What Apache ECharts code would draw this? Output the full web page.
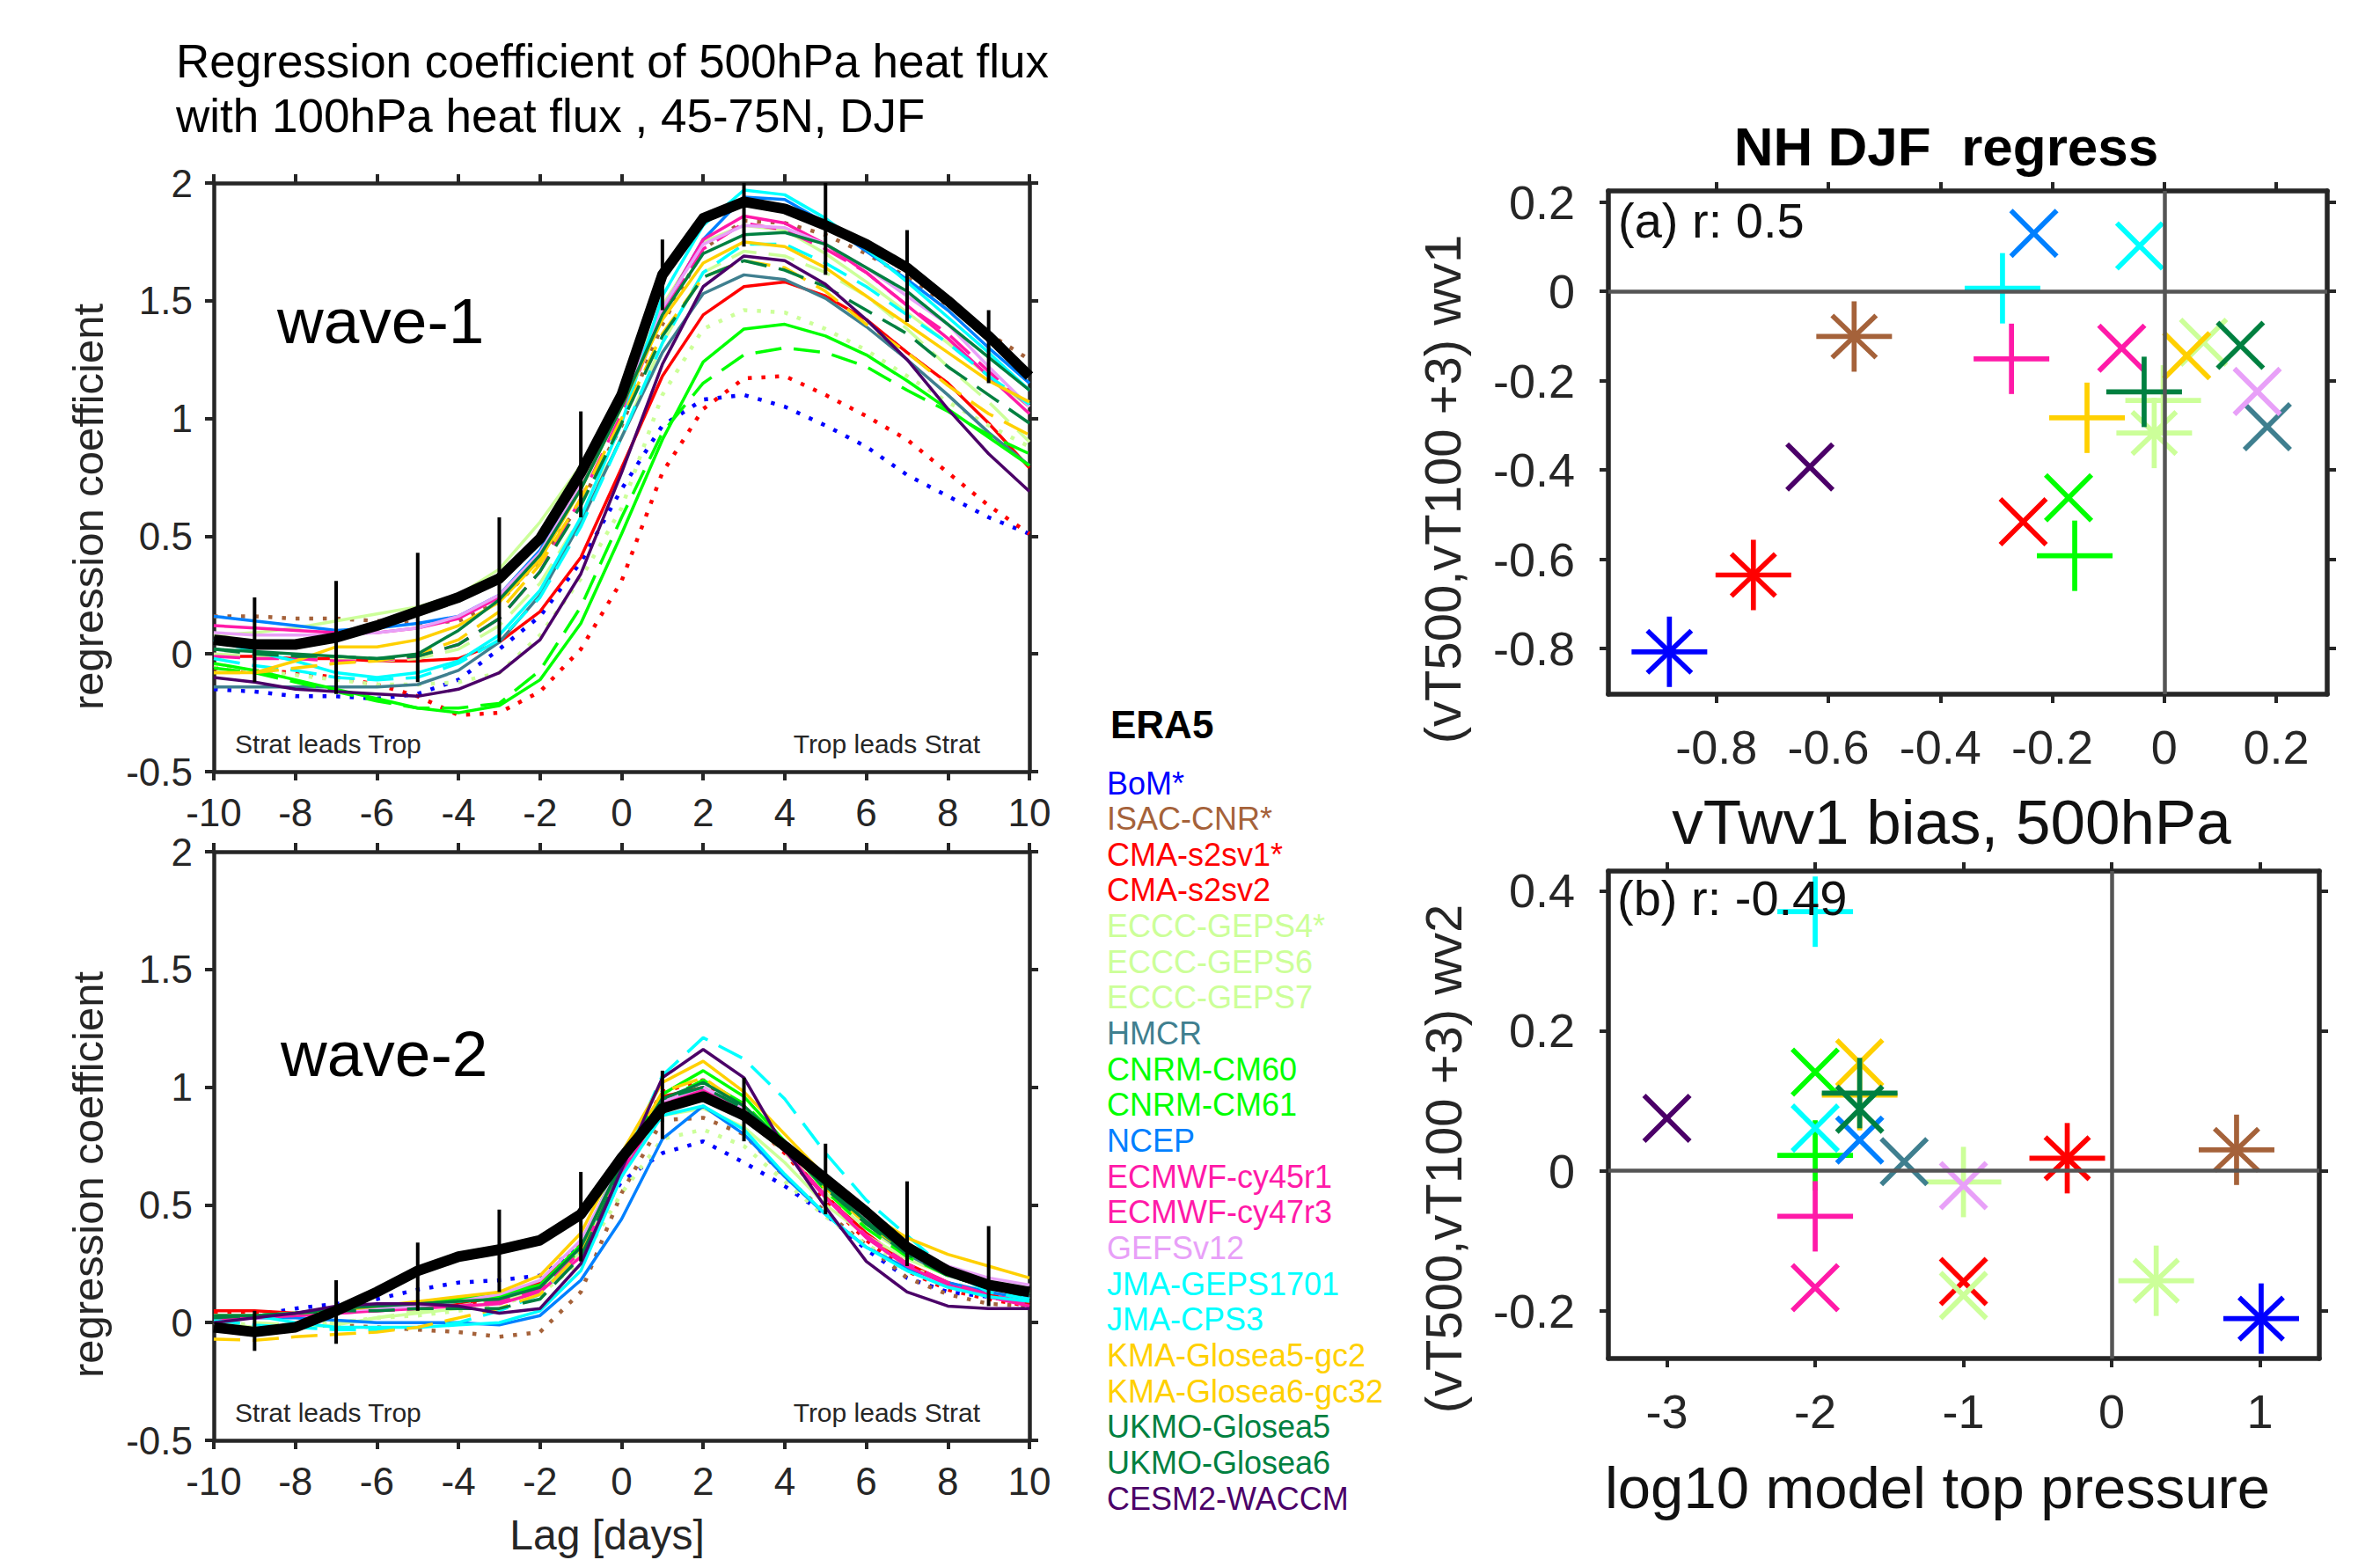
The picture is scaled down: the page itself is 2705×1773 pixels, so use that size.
<!DOCTYPE html>
<html>
<head>
<meta charset="utf-8">
<script src="https://cdn.jsdelivr.net/npm/echarts@6/dist/echarts.min.js"></script>
<style>html,body{margin:0;padding:0;background:#fff}#chart{width:2705px;height:1773px}</style>
</head>
<body>
<div id="chart"></div>
<script>
// ---------------- data ----------------
const LAGS = [-10,-9,-8,-7,-6,-5,-4,-3,-2,-1,0,1,2,3,4,5,6,7,8,9,10];
const MODEL_NAMES = ['BoM*','ISAC-CNR*','CMA-s2sv1*','CMA-s2sv2','ECCC-GEPS4*','ECCC-GEPS6','ECCC-GEPS7','HMCR','CNRM-CM60','CNRM-CM61','NCEP','ECMWF-cy45r1','ECMWF-cy47r3','GEFSv12','JMA-GEPS1701','JMA-CPS3','KMA-Glosea5-gc2','KMA-Glosea6-gc32','UKMO-Glosea5','UKMO-Glosea6','CESM2-WACCM'];

// wave-1 regression coefficients (lag -10..10)
const W1_ERA5 = [0.06,0.04,0.04,0.07,0.12,0.18,0.24,0.32,0.49,0.77,1.10,1.61,1.85,1.92,1.89,1.82,1.74,1.64,1.50,1.35,1.18];
const W1_BOM = [-0.15,-0.16,-0.18,-0.18,-0.19,-0.17,-0.11,0.02,0.16,0.39,0.70,0.97,1.08,1.10,1.05,0.97,0.88,0.76,0.67,0.58,0.51];
const W1_ISAC = [0.16,0.16,0.15,0.15,0.14,0.13,0.14,0.22,0.40,0.64,0.97,1.40,1.72,1.84,1.83,1.78,1.70,1.60,1.48,1.36,1.25];
const W1_CMA1 = [-0.06,-0.07,-0.08,-0.10,-0.13,-0.18,-0.26,-0.25,-0.16,0.02,0.31,0.77,1.04,1.17,1.18,1.10,1.01,0.91,0.77,0.63,0.51];
const W1_CMA2 = [-0.01,-0.01,-0.02,-0.02,-0.03,-0.03,-0.02,0.05,0.18,0.41,0.79,1.18,1.44,1.56,1.58,1.52,1.42,1.28,1.15,0.98,0.79];
const W1_GEPS4 = [-0.05,-0.07,-0.09,-0.11,-0.13,-0.13,-0.12,-0.08,0.08,0.32,0.62,1.10,1.38,1.46,1.45,1.38,1.29,1.18,1.07,0.97,0.88];
const W1_GEPS6 = [0.08,0.09,0.11,0.14,0.17,0.20,0.25,0.36,0.56,0.80,1.08,1.48,1.75,1.82,1.80,1.70,1.58,1.45,1.32,1.18,1.05];
const W1_GEPS7 = [0.00,-0.01,-0.02,-0.02,-0.03,-0.02,0.02,0.12,0.30,0.58,0.92,1.32,1.62,1.71,1.69,1.62,1.52,1.38,1.22,1.07,0.90];
const W1_HMCR = [-0.14,-0.14,-0.14,-0.14,-0.14,-0.13,-0.07,0.05,0.25,0.56,0.92,1.28,1.53,1.61,1.59,1.51,1.39,1.25,1.10,0.94,0.80];
const W1_CM60 = [-0.04,-0.07,-0.11,-0.15,-0.19,-0.23,-0.25,-0.22,-0.11,0.13,0.51,0.91,1.24,1.38,1.40,1.35,1.27,1.16,1.04,0.92,0.80];
const W1_CM61 = [-0.06,-0.08,-0.12,-0.16,-0.20,-0.23,-0.23,-0.21,-0.07,0.20,0.58,0.94,1.15,1.27,1.30,1.28,1.22,1.12,1.03,0.93,0.85];
const W1_NCEP = [0.16,0.14,0.12,0.10,0.11,0.13,0.16,0.25,0.44,0.74,1.08,1.46,1.76,1.94,1.93,1.83,1.71,1.59,1.46,1.30,1.15];
const W1_EC45 = [0.12,0.11,0.10,0.09,0.09,0.11,0.15,0.24,0.42,0.72,1.06,1.46,1.76,1.86,1.83,1.74,1.62,1.48,1.34,1.18,1.02];
const W1_EC47 = [-0.01,-0.02,-0.02,-0.03,-0.03,-0.01,0.04,0.15,0.35,0.66,1.02,1.44,1.72,1.83,1.80,1.72,1.62,1.48,1.36,1.20,1.05];
const W1_GEFS = [0.09,0.08,0.08,0.08,0.09,0.11,0.16,0.25,0.43,0.72,1.06,1.47,1.74,1.82,1.81,1.74,1.64,1.52,1.40,1.22,1.05];
const W1_GEPS1701 = [0.06,0.01,-0.03,-0.08,-0.10,-0.08,-0.03,0.08,0.27,0.58,0.98,1.52,1.82,1.97,1.95,1.85,1.72,1.58,1.43,1.28,1.12];
const W1_CPS3 = [-0.02,-0.05,-0.07,-0.10,-0.11,-0.10,-0.04,0.06,0.24,0.54,0.92,1.32,1.62,1.74,1.74,1.66,1.56,1.44,1.32,1.18,1.06];
const W1_KMA5 = [-0.08,-0.08,-0.03,0.03,0.03,0.06,0.12,0.22,0.40,0.70,1.05,1.42,1.66,1.75,1.73,1.64,1.52,1.40,1.28,1.16,1.07];
const W1_KMA6 = [-0.08,-0.08,-0.06,-0.04,-0.03,0.00,0.06,0.18,0.38,0.66,1.00,1.36,1.60,1.67,1.64,1.54,1.40,1.28,1.14,1.02,0.93];
const W1_UK5 = [0.02,0.01,0.00,-0.01,-0.02,0.00,0.10,0.23,0.42,0.70,1.05,1.44,1.70,1.78,1.79,1.74,1.64,1.54,1.40,1.26,1.12];
const W1_UK6 = [0.02,0.00,-0.01,-0.01,-0.02,-0.01,0.04,0.15,0.35,0.63,0.98,1.35,1.60,1.67,1.63,1.56,1.46,1.36,1.22,1.10,0.98];
const W1_CESM = [-0.10,-0.12,-0.15,-0.16,-0.17,-0.18,-0.15,-0.08,0.06,0.34,0.77,1.23,1.56,1.69,1.67,1.57,1.42,1.25,1.04,0.85,0.69];

// wave-2 regression coefficients (lag -10..10)
const W2_ERA5 = [-0.02,-0.04,-0.02,0.05,0.13,0.22,0.28,0.31,0.35,0.46,0.70,0.91,0.96,0.88,0.75,0.61,0.47,0.32,0.22,0.16,0.13];
const W2_BOM = [0.01,0.03,0.06,0.08,0.10,0.14,0.17,0.18,0.20,0.33,0.60,0.72,0.77,0.68,0.58,0.46,0.31,0.19,0.13,0.11,0.08];
const W2_ISAC = [-0.02,-0.03,-0.02,-0.01,-0.02,-0.03,-0.04,-0.06,-0.04,0.13,0.55,0.86,0.87,0.80,0.62,0.47,0.33,0.19,0.12,0.08,0.07];
const W2_CMA1 = [0.04,0.04,0.04,0.05,0.06,0.07,0.08,0.10,0.16,0.33,0.68,0.98,1.03,0.88,0.72,0.52,0.35,0.22,0.14,0.10,0.07];
const W2_CMA2 = [0.05,0.05,0.04,0.05,0.06,0.07,0.08,0.11,0.17,0.32,0.66,0.96,1.00,0.88,0.73,0.54,0.38,0.25,0.17,0.12,0.08];
const W2_GEPS4 = [0.00,-0.01,-0.01,0.00,0.02,0.03,0.05,0.08,0.12,0.26,0.55,0.78,0.82,0.75,0.60,0.45,0.33,0.24,0.17,0.13,0.10];
const W2_GEPS6 = [0.00,-0.02,-0.02,-0.01,0.02,0.04,0.06,0.09,0.14,0.30,0.65,0.88,0.91,0.83,0.68,0.50,0.37,0.27,0.20,0.15,0.12];
const W2_GEPS7 = [0.01,0.00,-0.01,0.00,0.02,0.05,0.07,0.10,0.15,0.30,0.65,0.92,0.97,0.88,0.72,0.55,0.40,0.29,0.20,0.15,0.12];
const W2_HMCR = [0.03,0.03,0.04,0.06,0.07,0.08,0.09,0.11,0.16,0.32,0.66,0.92,1.00,0.90,0.75,0.58,0.42,0.29,0.20,0.15,0.11];
const W2_CM60 = [0.03,0.03,0.04,0.05,0.07,0.08,0.10,0.12,0.16,0.33,0.70,0.97,1.07,0.96,0.77,0.58,0.42,0.30,0.22,0.17,0.13];
const W2_CM61 = [0.03,0.03,0.04,0.05,0.06,0.07,0.09,0.11,0.15,0.31,0.68,0.94,1.03,0.93,0.76,0.56,0.40,0.28,0.20,0.15,0.12];
const W2_NCEP = [0.02,0.02,0.02,0.01,0.00,0.00,0.00,-0.01,0.03,0.18,0.44,0.78,0.92,0.80,0.62,0.46,0.32,0.23,0.17,0.13,0.10];
const W2_EC45 = [0.02,0.02,0.03,0.04,0.05,0.06,0.07,0.08,0.13,0.28,0.62,0.93,0.99,0.88,0.73,0.53,0.36,0.24,0.16,0.11,0.07];
const W2_EC47 = [0.01,0.02,0.03,0.04,0.05,0.06,0.07,0.09,0.14,0.30,0.64,0.94,1.00,0.89,0.73,0.54,0.37,0.25,0.17,0.12,0.08];
const W2_GEFS = [0.03,0.03,0.04,0.05,0.06,0.07,0.09,0.12,0.18,0.35,0.68,0.94,1.00,0.91,0.76,0.58,0.43,0.32,0.24,0.19,0.16];
const W2_GEPS1701 = [0.03,0.03,0.00,-0.02,-0.02,-0.02,-0.01,0.00,0.05,0.22,0.62,0.88,0.92,0.82,0.63,0.46,0.32,0.22,0.15,0.11,0.09];
const W2_CPS3 = [0.01,-0.01,-0.02,-0.03,-0.03,-0.02,0.00,0.05,0.12,0.30,0.66,1.05,1.21,1.12,0.95,0.72,0.52,0.37,0.22,0.13,0.10];
const W2_KMA5 = [0.03,0.03,0.04,0.05,0.07,0.09,0.11,0.13,0.20,0.38,0.72,1.02,1.11,0.98,0.80,0.62,0.47,0.36,0.29,0.24,0.19];
const W2_KMA6 = [-0.07,-0.075,-0.06,-0.05,-0.04,-0.02,0.02,0.06,0.12,0.30,0.68,0.98,1.04,0.92,0.75,0.57,0.42,0.30,0.22,0.17,0.14];
const W2_UK5 = [0.03,0.03,0.04,0.06,0.07,0.08,0.09,0.10,0.15,0.32,0.68,0.95,1.02,0.92,0.76,0.58,0.43,0.30,0.21,0.16,0.12];
const W2_UK6 = [0.02,0.03,0.04,0.05,0.05,0.06,0.06,0.06,0.10,0.28,0.66,0.95,1.00,0.91,0.75,0.57,0.42,0.29,0.20,0.15,0.11];
const W2_CESM = [0.00,0.02,0.04,0.07,0.08,0.08,0.07,0.04,0.06,0.25,0.65,1.04,1.16,1.04,0.74,0.49,0.26,0.13,0.07,0.06,0.06];

// ERA5 uncertainty bars
const EB_LAGS = [-9,-7,-5,-3,-1,1,3,5,7,9];
const W1_EB_LO = [-0.12,-0.17,-0.12,0.05,0.58,1.46,1.73,1.61,1.41,1.15];
const W1_EB_HI = [0.24,0.31,0.43,0.58,1.03,1.76,2.00,2.00,1.80,1.46];
const W2_EB_LO = [-0.12,-0.09,0.05,0.13,0.26,0.78,0.77,0.46,0.24,0.07];
const W2_EB_HI = [0.05,0.18,0.34,0.48,0.64,1.07,1.04,0.76,0.60,0.41];

// scatter (a): x = vTwv1 bias at 500hPa, y = wv1 regression difference
const SCAT_A_X = [-0.884,-0.554,-0.734,-0.252,-0.018,0.070,-0.002,0.184,-0.171,-0.160,-0.233,-0.076,-0.273,0.166,-0.044,-0.289,0.040,-0.138,0.136,-0.036,-0.633];
const SCAT_A_Y = [-0.807,-0.101,-0.635,-0.516,-0.317,-0.114,-0.244,-0.303,-0.462,-0.592,0.130,-0.127,-0.151,-0.224,0.102,0.007,-0.144,-0.283,-0.121,-0.225,-0.393];
// scatter (b): x = log10 model top pressure, y = wv2 regression difference
const SCAT_B_X = [1.008,0.842,-0.30,-1.0,0.30,-1.0,-1.0,-1.40,-2.0,-2.0,-1.70,-2.0,-2.0,-1.0,-2.0,-2.0,-1.70,-1.70,-1.70,-1.70,-3.0];
const SCAT_B_Y = [-0.211,0.030,0.018,-0.158,-0.157,-0.178,-0.016,0.013,0.141,0.022,0.044,-0.167,-0.065,-0.021,0.061,0.370,0.154,0.108,0.088,0.111,0.075];

const X_TICKS_A = [-0.8,-0.6,-0.4,-0.2,0,0.2];
const Y_TICKS_A = [-0.8,-0.6,-0.4,-0.2,0,0.2];
const X_TICKS_B = [-3,-2,-1,0,1];
const Y_TICKS_B = [-0.2,0,0.2,0.4];

// ---------------- styles ----------------
const MODEL_COLORS = ['#0000ff','#a5623a','#ff0000','#ff0000','#ccff99','#ccff99','#ccff99','#3f7f8f','#00ff00','#00ff00','#0080ff','#ff1aa8','#ff1aa8','#e8a0f8','#00ffff','#00ffff','#ffd000','#ffd000','#008040','#008040','#4b0068'];
const MODEL_MARKERS = ['*','*','*','x','*','x','+','x','x','+','x','x','+','x','x','+','x','+','x','+','x'];

const WAVE1 = [W1_BOM,W1_ISAC,W1_CMA1,W1_CMA2,W1_GEPS4,W1_GEPS6,W1_GEPS7,W1_HMCR,W1_CM60,W1_CM61,W1_NCEP,W1_EC45,W1_EC47,W1_GEFS,W1_GEPS1701,W1_CPS3,W1_KMA5,W1_KMA6,W1_UK5,W1_UK6,W1_CESM];
const WAVE2 = [W2_BOM,W2_ISAC,W2_CMA1,W2_CMA2,W2_GEPS4,W2_GEPS6,W2_GEPS7,W2_HMCR,W2_CM60,W2_CM61,W2_NCEP,W2_EC45,W2_EC47,W2_GEFS,W2_GEPS1701,W2_CPS3,W2_KMA5,W2_KMA6,W2_UK5,W2_UK6,W2_CESM];

const FONT = '"Liberation Sans", Arial, Helvetica, sans-serif';
const AX = '#262626';

const chart = echarts.init(document.getElementById('chart'), null, {renderer: 'svg', width: 2705, height: 1773});

const grids = [
  {left: 243, top: 208, width: 927, height: 669},
  {left: 243, top: 968, width: 927, height: 669},
  {left: 1828, top: 217, width: 817, height: 572},
  {left: 1828, top: 990, width: 808, height: 554}
];

function fmt(v) { return String(Math.round(v * 10) / 10); }

function axisBase(gi, pos, min, max, showLabel, fontSize, margin, extra) {
  const a = {
    type: 'value', gridIndex: gi, position: pos, min: min, max: max,
    axisLine: {show: true, onZero: false, lineStyle: {color: AX, width: extra.lw || 4.5}},
    axisTick: {show: true, inside: false, length: 10, lineStyle: {color: AX, width: 4}},
    axisLabel: {show: showLabel, fontSize: fontSize, color: AX, margin: margin, fontFamily: FONT, showMinLabel: true, showMaxLabel: true, formatter: fmt},
    splitLine: {show: false}
  };
  if (extra.interval !== undefined) a.interval = extra.interval;
  if (extra.ticks) { a.axisTick.customValues = extra.ticks; a.axisLabel.customValues = extra.ticks; }
  return a;
}

const xAxes = [], yAxes = [];
[0, 1].forEach(g => {
  xAxes.push(axisBase(g, 'bottom', -10, 10, true, 44, 24, {interval: 2}));
  yAxes.push(axisBase(g, 'left', -0.5, 2, true, 44, 24, {interval: 0.5}));
});
xAxes.push(axisBase(2, 'bottom', -0.993, 0.291, true, 54, 33, {ticks: X_TICKS_A, lw: 5.5}));
yAxes.push(axisBase(2, 'left', -0.902, 0.225, true, 54, 38, {ticks: Y_TICKS_A, lw: 5.5}));
xAxes.push(axisBase(3, 'bottom', -3.395, 1.40, true, 54, 33, {ticks: X_TICKS_B, lw: 5.5}));
yAxes.push(axisBase(3, 'left', -0.268, 0.428, true, 54, 38, {ticks: Y_TICKS_B, lw: 5.5}));
[0, 1].forEach(g => {
  xAxes.push(axisBase(g, 'top', -10, 10, false, 44, 24, {interval: 2}));
  yAxes.push(axisBase(g, 'right', -0.5, 2, false, 44, 24, {interval: 0.5}));
});
xAxes.push(axisBase(2, 'top', -0.993, 0.291, false, 54, 33, {ticks: X_TICKS_A, lw: 5.5}));
yAxes.push(axisBase(2, 'right', -0.902, 0.225, false, 54, 38, {ticks: Y_TICKS_A, lw: 5.5}));
xAxes.push(axisBase(3, 'top', -3.395, 1.40, false, 54, 33, {ticks: X_TICKS_B, lw: 5.5}));
yAxes.push(axisBase(3, 'right', -0.268, 0.428, false, 54, 38, {ticks: Y_TICKS_B, lw: 5.5}));

function lineType(m) {
  if (m === '*') return [4.5, 11];
  if (m === '+') return [30, 14];
  return 'solid';
}

const series = [];
[WAVE1, WAVE2].forEach((wave, g) => {
  wave.forEach((vals, i) => {
    const m = MODEL_MARKERS[i];
    series.push({
      type: 'line', name: MODEL_NAMES[i], xAxisIndex: g, yAxisIndex: g,
      data: LAGS.map((l, k) => [l, vals[k]]),
      symbol: 'none', showSymbol: false, silent: true, animation: false, z: 2,
      lineStyle: {color: MODEL_COLORS[i], width: m === '*' ? 4.5 : 3.5, type: lineType(m), cap: 'butt'}
    });
  });
  const era = g === 0 ? W1_ERA5 : W2_ERA5;
  series.push({
    type: 'line', name: 'ERA5', xAxisIndex: g, yAxisIndex: g,
    data: LAGS.map((l, k) => [l, era[k]]),
    symbol: 'none', showSymbol: false, silent: true, animation: false, z: 3,
    lineStyle: {color: '#000', width: 12, join: 'round'}
  });
  const lo = g === 0 ? W1_EB_LO : W2_EB_LO;
  const hi = g === 0 ? W1_EB_HI : W2_EB_HI;
  series.push({
    type: 'custom', xAxisIndex: g, yAxisIndex: g, silent: true, animation: false, z: 4, clip: false,
    data: EB_LAGS.map((l, k) => [l, lo[k], hi[k]]),
    encode: {x: 0, y: [1, 2]},
    renderItem: function (params, api) {
      const a = api.coord([api.value(0), api.value(1)]);
      const b = api.coord([api.value(0), api.value(2)]);
      return {type: 'line', shape: {x1: a[0], y1: a[1], x2: b[0], y2: b[1]}, style: {stroke: '#000', lineWidth: 4}};
    }
  });
});

function markerRender(params, api) {
  const i = api.value(2);
  const p = api.coord([api.value(0), api.value(1)]);
  const m = MODEL_MARKERS[i], col = MODEL_COLORS[i];
  const PH = 43, PV = 40, X = 26, SX = 25, SY = 24;
  const segs = [];
  if (m !== 'x') { segs.push([-PH, 0, PH, 0], [0, -PV, 0, PV]); }
  if (m === 'x') { segs.push([-X, -X, X, X], [-X, X, X, -X]); }
  if (m === '*') { segs.push([-SX, -SY, SX, SY], [-SX, SY, SX, -SY]); }
  return {
    type: 'group',
    children: segs.map(s => ({
      type: 'line',
      shape: {x1: p[0] + s[0], y1: p[1] + s[1], x2: p[0] + s[2], y2: p[1] + s[3]},
      style: {stroke: col, lineWidth: 5.7}
    }))
  };
}

[[SCAT_A_X, SCAT_A_Y], [SCAT_B_X, SCAT_B_Y]].forEach((sc, k) => {
  const g = k + 2;
  series.push({
    type: 'custom', xAxisIndex: g, yAxisIndex: g, silent: true, animation: false, z: 3, clip: false,
    data: sc[0].map((x, i) => [x, sc[1][i], i]),
    encode: {x: 0, y: 1},
    renderItem: markerRender,
    markLine: {
      silent: true, symbol: 'none', animation: false, label: {show: false},
      lineStyle: {color: '#555555', width: 4.5, type: 'solid'},
      data: [{yAxis: 0}, {xAxis: 0}]
    }
  });
});

// ---------------- texts ----------------
const graphic = [];
function txt(text, x, y, size, opts) {
  opts = opts || {};
  graphic.push({
    type: 'text', x: x, y: y, rotation: opts.rot || 0, silent: true, z: 10,
    style: {
      text: text, fontSize: size, fontFamily: FONT, fontWeight: opts.bold ? 'bold' : 'normal',
      fill: opts.color || '#000', align: opts.align || 'left', verticalAlign: 'middle'
    }
  });
}
txt('Regression coefficient of 500hPa heat flux', 200, 69, 53);
txt('with 100hPa heat flux , 45-75N, DJF', 200, 131, 53);
txt('wave-1', 315, 364, 73);
txt('wave-2', 319, 1197, 73);
txt('Strat leads Trop', 267, 845, 30, {color: AX});
txt('Trop leads Strat', 1114, 845, 30, {color: AX, align: 'right'});
txt('Strat leads Trop', 267, 1605, 30, {color: AX});
txt('Trop leads Strat', 1114, 1605, 30, {color: AX, align: 'right'});
txt('regression coefficient', 100, 576, 49, {rot: Math.PI / 2, align: 'center', color: AX});
txt('regression coefficient', 100, 1335, 49, {rot: Math.PI / 2, align: 'center', color: AX});
txt('Lag [days]', 690, 1744, 48, {align: 'center', color: AX});
txt('ERA5', 1262, 823, 44, {bold: true});
MODEL_NAMES.forEach((n, i) => txt(n, 1258, 890 + i * 40.65, 36, {color: MODEL_COLORS[i]}));
txt('NH DJF  regress', 2212, 166, 62, {bold: true, align: 'center'});
txt('(a) r: 0.5', 1839, 250, 56, {color: '#111'});
txt('(b) r: -0.49', 1838, 1020, 56, {color: '#111'});
txt('vTwv1 bias, 500hPa', 2218, 934, 71, {align: 'center', color: '#111'});
txt('log10 model top pressure', 2202, 1690, 67, {align: 'center', color: '#111'});
txt('(vT500,vT100 +3) wv1', 1639, 556, 58, {rot: Math.PI / 2, align: 'center', color: AX});
txt('(vT500,vT100 +3) wv2', 1640, 1317, 58, {rot: Math.PI / 2, align: 'center', color: AX});

chart.setOption({
  animation: false,
  backgroundColor: '#ffffff',
  grid: grids,
  xAxis: xAxes,
  yAxis: yAxes,
  series: series,
  graphic: graphic
});
</script>
</body>
</html>
